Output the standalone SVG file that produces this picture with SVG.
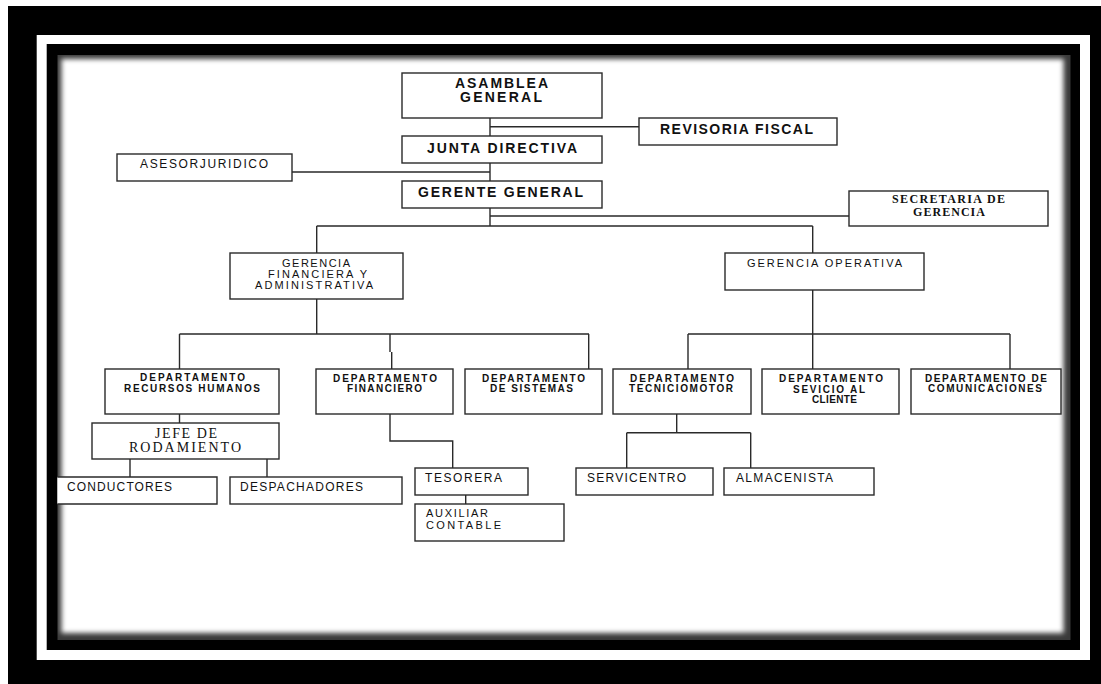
<svg xmlns="http://www.w3.org/2000/svg" width="1101" height="684" viewBox="0 0 1101 684">
<style>
.box{fill:#fff;stroke:#2a2a2a;stroke-width:1.4}
.ln{fill:none;stroke:#2a2a2a;stroke-width:1.4}
.t{font-family:"Liberation Sans",Arial,sans-serif;fill:#111}
.b{font-weight:bold;font-size:14px}
.d{font-weight:bold;font-size:10px}
.r{font-size:11px}
.s{font-size:12px}
.a{font-size:11px}
.sf{font-family:"Liberation Serif","Times New Roman",serif;fill:#111}
.m{text-anchor:middle}
</style>
<defs>
<clipPath id="content"><rect x="57.3" y="55" width="1013.4" height="585"/></clipPath>
<filter id="blur" x="-5%" y="-5%" width="110%" height="110%"><feGaussianBlur stdDeviation="2.6"/></filter>
</defs>
<g id="frame">
<rect x="0" y="0" width="1101" height="684" fill="#fff"/>
<rect x="8" y="6" width="1093" height="678" fill="#000"/>
<rect x="36.7" y="35" width="1053.3" height="625" fill="#fff"/>
<rect x="46.7" y="44" width="1033.3" height="606" fill="#000"/>
<g clip-path="url(#content)">
<rect x="57.3" y="55" width="1013.4" height="585" fill="#3a3a3a"/>
<rect x="61.5" y="59" width="1002" height="574" fill="#fff" filter="url(#blur)"/>
</g>
</g>
<g id="connectors">
<path class="ln" d="M490,118V136M490,126.7H639M490,163V181M292,172H490M490,208V226M490,216H849M316.7,226H812.7M316.7,226V253M812.7,226V253"/>
<path class="ln" d="M316.7,299V334M179.5,334H589M179.5,334V369M390,334V352M391.7,352V369M588.7,334V369"/>
<path class="ln" d="M812.7,290V369M688,334H1010M688,334V369M1010,334V369"/>
<path class="ln" d="M179.5,414V423M130,459V477M267,459V477M390,414V441H452.7V468M465.7,495V504M676.7,414V432.7M626.7,432.7H750.7M626.7,432.7V468M750.7,432.7V468"/>
</g>
<g id="asamblea">
<rect class="box" x="402" y="73" width="200" height="45"/>
<text class="t b m" x="501.5" y="88" textLength="93" lengthAdjust="spacing">ASAMBLEA</text>
<text class="t b m" x="501" y="102" textLength="82" lengthAdjust="spacing">GENERAL</text>
</g>
<g id="revisoria">
<rect class="box" x="639" y="118" width="198" height="27"/>
<text class="t b m" x="736.5" y="134" textLength="153" lengthAdjust="spacing">REVISORIA FISCAL</text>
</g>
<g id="junta">
<rect class="box" x="402" y="136" width="200" height="27"/>
<text class="t b m" x="502" y="153" textLength="150" lengthAdjust="spacing">JUNTA DIRECTIVA</text>
</g>
<g id="asesor">
<rect class="box" x="117" y="154" width="175" height="27"/>
<text class="t s m" x="204" y="168" textLength="128" lengthAdjust="spacing" fill="#333">ASESORJURIDICO</text>
</g>
<g id="gerente">
<rect class="box" x="402" y="181" width="200" height="27"/>
<text class="t b m" x="500.5" y="197" textLength="165" lengthAdjust="spacing">GERENTE GENERAL</text>
</g>
<g id="secretaria">
<rect class="box" x="849" y="191" width="199" height="35"/>
<text class="sf m" x="948.5" y="203" font-size="12" font-weight="bold" textLength="113" lengthAdjust="spacing">SECRETARIA DE</text>
<text class="sf m" x="949" y="216" font-size="12" font-weight="bold" textLength="72" lengthAdjust="spacing">GERENCIA</text>
</g>
<g id="gerencia-financiera">
<rect class="box" x="230" y="253" width="173" height="46"/>
<text class="t r m" x="316" y="267" textLength="68" lengthAdjust="spacing">GERENCIA</text>
<text class="t r m" x="317.5" y="278" textLength="99" lengthAdjust="spacing">FINANCIERA Y</text>
<text class="t r m" x="314" y="289" textLength="118" lengthAdjust="spacing">ADMINISTRATIVA</text>
</g>
<g id="gerencia-operativa">
<rect class="box" x="725" y="253" width="199" height="37"/>
<text class="t r m" x="824.5" y="267" textLength="155" lengthAdjust="spacing">GERENCIA OPERATIVA</text>
</g>
<g id="dep-rrhh">
<rect class="box" x="105" y="369" width="174" height="45"/>
<text class="t d m" x="192.5" y="381" textLength="105" lengthAdjust="spacing">DEPARTAMENTO</text>
<text class="t d m" x="192" y="392" textLength="136" lengthAdjust="spacing">RECURSOS HUMANOS</text>
</g>
<g id="dep-financiero">
<rect class="box" x="316" y="369" width="137" height="45"/>
<text class="t d m" x="385" y="381.5" textLength="104" lengthAdjust="spacing">DEPARTAMENTO</text>
<text class="t d m" x="384.5" y="392" textLength="75" lengthAdjust="spacing">FINANCIERO</text>
</g>
<g id="dep-sistemas">
<rect class="box" x="465" y="369" width="137" height="45"/>
<text class="t d m" x="533.5" y="381.5" textLength="103" lengthAdjust="spacing">DEPARTAMENTO</text>
<text class="t d m" x="531.5" y="392" textLength="83" lengthAdjust="spacing">DE SISTEMAS</text>
</g>
<g id="dep-tecniciomotor">
<rect class="box" x="613" y="369" width="138" height="45"/>
<text class="t d m" x="682" y="381.5" textLength="104" lengthAdjust="spacing">DEPARTAMENTO</text>
<text class="t d m" x="681" y="392" textLength="104" lengthAdjust="spacing">TECNICIOMOTOR</text>
</g>
<g id="dep-servicio">
<rect class="box" x="762" y="369" width="137" height="45"/>
<text class="t d m" x="831" y="381.5" textLength="104" lengthAdjust="spacing">DEPARTAMENTO</text>
<text class="t d m" x="829" y="392.5" textLength="72" lengthAdjust="spacing">SEVICIO AL</text>
<text class="t d m" x="834.5" y="402.5" textLength="45" lengthAdjust="spacing">CLIENTE</text>
</g>
<g id="dep-comunicaciones">
<rect class="box" x="911" y="369" width="150" height="45"/>
<text class="t d m" x="986" y="381.5" textLength="122" lengthAdjust="spacing">DEPARTAMENTO DE</text>
<text class="t d m" x="985" y="392" textLength="114" lengthAdjust="spacing">COMUNICACIONES</text>
</g>
<g id="jefe-rodamiento">
<rect class="box" x="92" y="423" width="187" height="36"/>
<text class="sf m" x="186" y="437.7" font-size="14" textLength="62" lengthAdjust="spacing">JEFE DE</text>
<text class="sf m" x="185" y="451.7" font-size="14" textLength="112" lengthAdjust="spacing">RODAMIENTO</text>
</g>
<g id="conductores">
<path class="box" d="M57.3,477H217V504H57.3"/>
<text class="t s" x="67" y="490.7" textLength="105" lengthAdjust="spacing">CONDUCTORES</text>
</g>
<g id="despachadores">
<rect class="box" x="230" y="477" width="172" height="27"/>
<text class="t s" x="240" y="490.7" textLength="123" lengthAdjust="spacing">DESPACHADORES</text>
</g>
<g id="tesorera">
<rect class="box" x="415" y="468" width="113" height="27"/>
<text class="t s" x="425" y="481.7" textLength="77" lengthAdjust="spacing">TESORERA</text>
</g>
<g id="auxiliar-contable">
<rect class="box" x="415" y="504" width="149" height="37"/>
<text class="t a" x="426" y="517.3" textLength="62" lengthAdjust="spacing">AUXILIAR</text>
<text class="t a" x="426" y="529" textLength="75" lengthAdjust="spacing">CONTABLE</text>
</g>
<g id="servicentro">
<rect class="box" x="576" y="468" width="137" height="27"/>
<text class="t s" x="587" y="481.7" textLength="99" lengthAdjust="spacing">SERVICENTRO</text>
</g>
<g id="almacenista">
<rect class="box" x="724" y="468" width="150" height="27"/>
<text class="t s" x="736" y="481.7" textLength="97" lengthAdjust="spacing">ALMACENISTA</text>
</g>
</svg>
